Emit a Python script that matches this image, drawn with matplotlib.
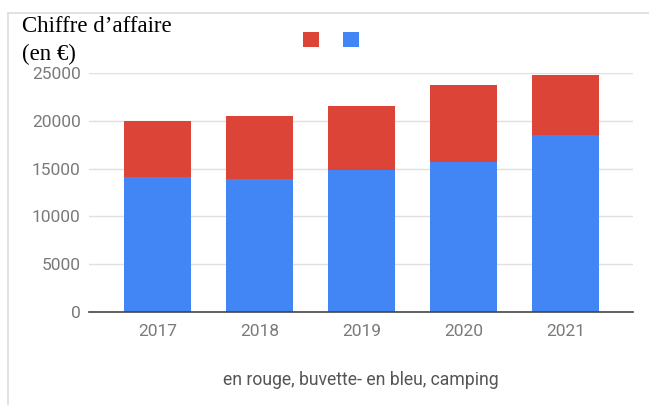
import numpy as np
import matplotlib.pyplot as plt
from matplotlib.lines import Line2D

annees = ['2017', '2018', '2019', '2020', '2021']
camping = [14150, 13880, 14850, 15660, 18510]
total = [20000, 20500, 21550, 23740, 24790]
buvette = [t - c for t, c in zip(total, camping)]
yticks = [0, 5000, 10000, 15000, 20000, 25000]

rouge = '#DB4437'
bleu = '#4285F4'
gris = '#7a7a7a'

fig = plt.figure(figsize=(6.49, 4.05), dpi=100)
ax = fig.add_axes([89/649, 1 - 312/405, (633 - 89)/649, (312 - 73)/405])

x = np.arange(len(annees))
b1 = ax.bar(x, camping, width=0.65, color=bleu, zorder=3)
b2 = ax.bar(x, buvette, width=0.65, bottom=camping, color=rouge, zorder=3)

ax.set_xlim(-0.67, 4.66)
ax.set_ylim(0, 25000)
ax.set_yticks(yticks)
ax.set_xticks(x)
ax.set_xticklabels(annees)
ax.grid(axis='y', color='#e0e0e0', lw=1, zorder=0)
for s in ['top', 'right', 'left']:
    ax.spines[s].set_visible(False)
ax.spines['bottom'].set_color('#444444')
ax.spines['bottom'].set_linewidth(1.2)
ax.spines['bottom'].set_zorder(4)
ax.tick_params(length=0, labelsize=12.5, labelcolor=gris)
ax.tick_params(axis='y', pad=6)
ax.tick_params(axis='x', pad=9)
for lab in ax.get_xticklabels() + ax.get_yticklabels():
    lab.set_family('Roboto')

# legende sans texte
leg = fig.legend([b2, b1], ['', ''], ncol=2, loc='center',
                 bbox_to_anchor=(331/649, 1 - 40/405), frameon=False,
                 handlelength=1.0, handleheight=1.0, handletextpad=0,
                 columnspacing=1.4, fontsize=12)

# titre sur deux lignes
fig.text(22/649, 1 - 32/405, 'Chiffre d\u2019affaire', family='Liberation Serif',
         fontsize=16.5, va='baseline', ha='left', color='black')
fig.text(22/649, 1 - 60/405, '(en \u20ac)', family='Liberation Serif',
         fontsize=16.5, va='baseline', ha='left', color='black')

fig.text(361/649, 1 - 380/405, 'en rouge, buvette- en bleu, camping', family='Roboto',
         fontsize=12.7, color='#555555', ha='center', va='center')

# bord de la capture
fig.add_artist(Line2D([8/649, 1], [1 - 13/405, 1 - 13/405], color='#dddddd', lw=1.2))
fig.add_artist(Line2D([8/649, 8/649], [0, 1 - 13/405], color='#dddddd', lw=1.2))

fig.savefig('out.png', dpi=100)
